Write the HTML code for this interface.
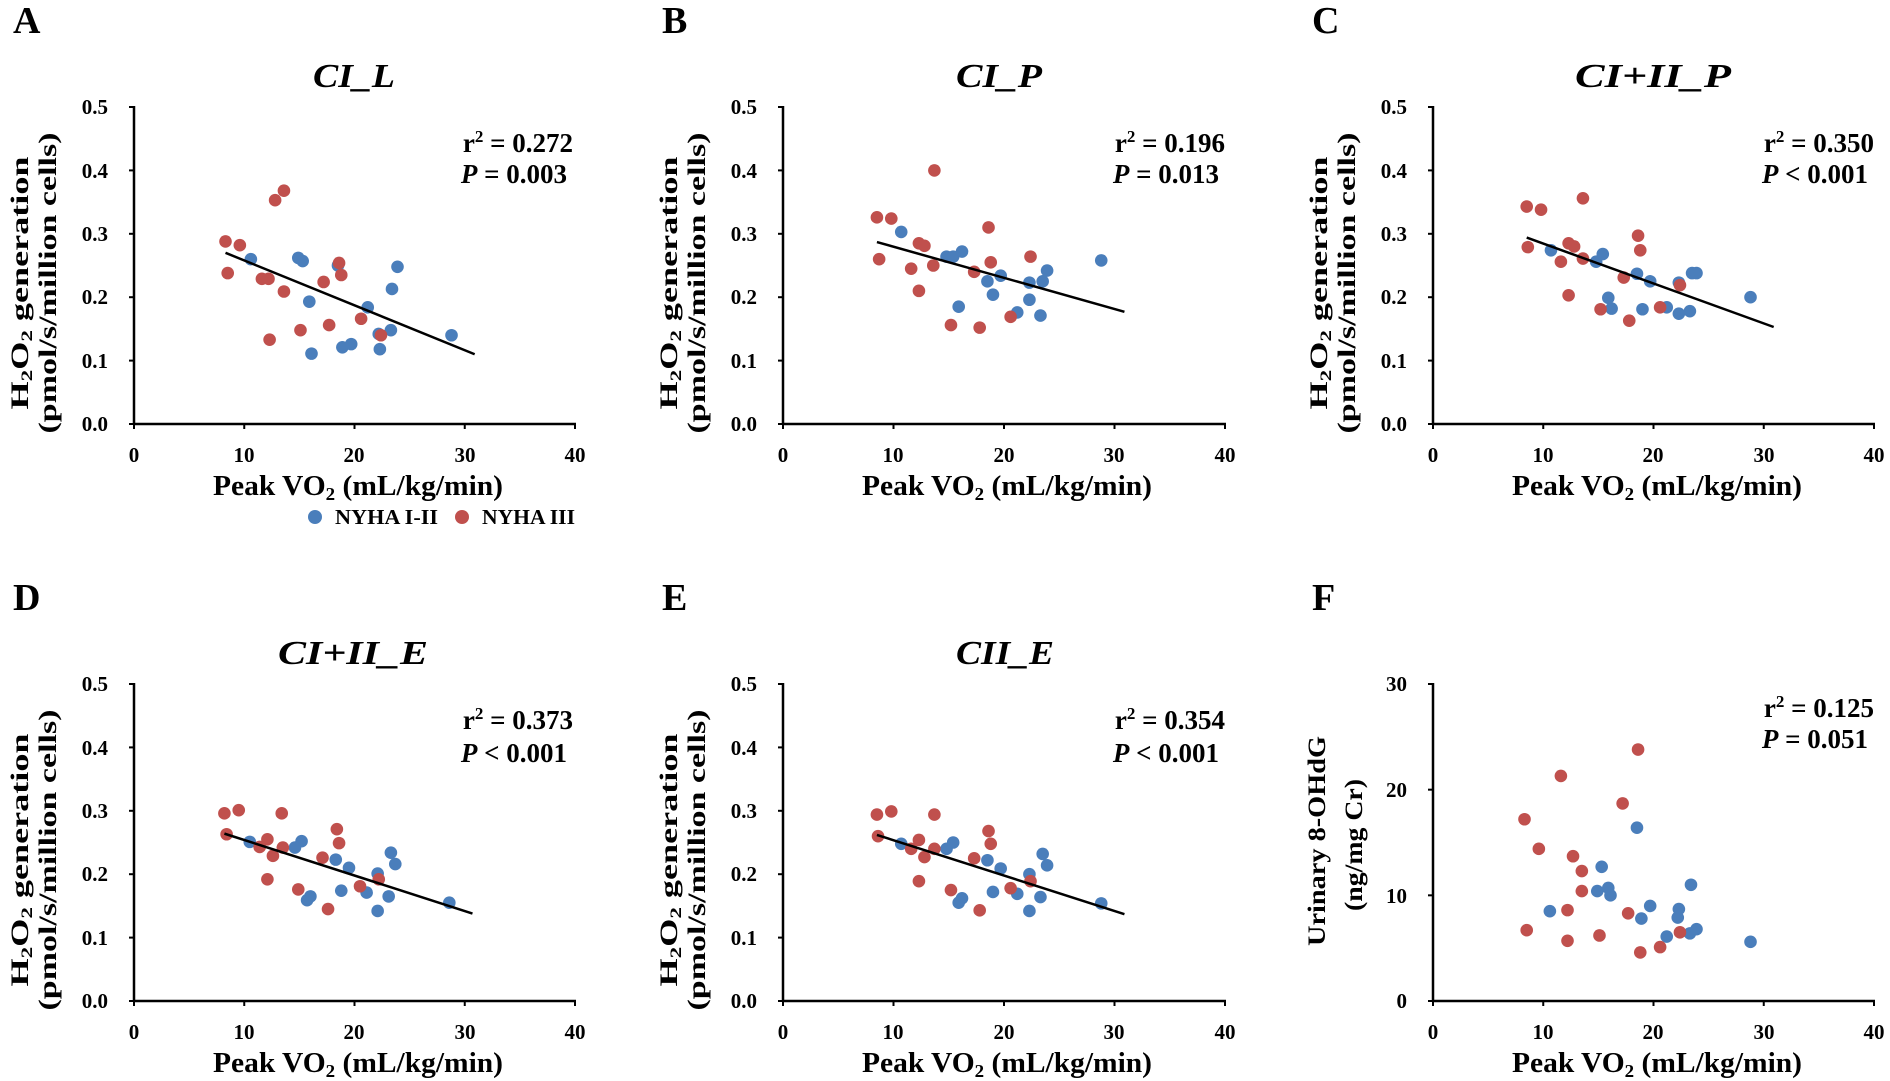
<!DOCTYPE html>
<html><head><meta charset="utf-8"><style>
html,body{margin:0;padding:0;background:#fff;}
svg{display:block;font-family:"Liberation Serif",serif;font-weight:bold;}
</style></head><body>
<svg id="s" width="1890" height="1081" viewBox="0 0 1890 1081" xmlns="http://www.w3.org/2000/svg">
<rect width="1890" height="1081" fill="#fff"/>
<g id="plots"></g>
<!-- Panel letters -->
<g font-size="38">
<text x="13" y="33">A</text><text x="662" y="33">B</text><text x="1312" y="33">C</text>
<text x="13" y="610">D</text><text x="662" y="610">E</text><text x="1312" y="610">F</text>
</g>
<!-- Titles -->
<g font-size="34" font-style="italic">
<text x="313" y="87" textLength="82" lengthAdjust="spacingAndGlyphs">CI_L</text>
<text x="956" y="87" textLength="86" lengthAdjust="spacingAndGlyphs">CI_P</text>
<text x="1575" y="87" textLength="156" lengthAdjust="spacingAndGlyphs">CI+II_P</text>
<text x="278" y="664" textLength="150" lengthAdjust="spacingAndGlyphs">CI+II_E</text>
<text x="956" y="664" textLength="98" lengthAdjust="spacingAndGlyphs">CII_E</text>
</g>
<!-- r2 / P -->
<g font-size="27" text-anchor="end">
<text x="573" y="152">r<tspan font-size="17" dy="-10">2</tspan><tspan dy="10"> = 0.272</tspan></text>
<text x="567" y="183"><tspan font-style="italic">P</tspan> = 0.003</text>
<text x="1225" y="152">r<tspan font-size="17" dy="-10">2</tspan><tspan dy="10"> = 0.196</tspan></text>
<text x="1219" y="183"><tspan font-style="italic">P</tspan> = 0.013</text>
<text x="1874" y="152">r<tspan font-size="17" dy="-10">2</tspan><tspan dy="10"> = 0.350</tspan></text>
<text x="1868" y="183"><tspan font-style="italic">P</tspan> &lt; 0.001</text>
<text x="573" y="729">r<tspan font-size="17" dy="-10">2</tspan><tspan dy="10"> = 0.373</tspan></text>
<text x="567" y="762"><tspan font-style="italic">P</tspan> &lt; 0.001</text>
<text x="1225" y="729">r<tspan font-size="17" dy="-10">2</tspan><tspan dy="10"> = 0.354</tspan></text>
<text x="1219" y="762"><tspan font-style="italic">P</tspan> &lt; 0.001</text>
<text x="1874" y="717">r<tspan font-size="17" dy="-10">2</tspan><tspan dy="10"> = 0.125</tspan></text>
<text x="1868" y="748"><tspan font-style="italic">P</tspan> = 0.051</text>
</g>
<!-- Y tick labels -->
<g font-size="21" text-anchor="end">
<text x="108" y="114">0.5</text><text x="108" y="178">0.4</text><text x="108" y="241">0.3</text><text x="108" y="304">0.2</text><text x="108" y="368">0.1</text><text x="108" y="431">0.0</text>
<text x="757" y="114">0.5</text><text x="757" y="178">0.4</text><text x="757" y="241">0.3</text><text x="757" y="304">0.2</text><text x="757" y="368">0.1</text><text x="757" y="431">0.0</text>
<text x="1407" y="114">0.5</text><text x="1407" y="178">0.4</text><text x="1407" y="241">0.3</text><text x="1407" y="304">0.2</text><text x="1407" y="368">0.1</text><text x="1407" y="431">0.0</text>
<text x="108" y="691">0.5</text><text x="108" y="755">0.4</text><text x="108" y="818">0.3</text><text x="108" y="881">0.2</text><text x="108" y="945">0.1</text><text x="108" y="1008">0.0</text>
<text x="757" y="691">0.5</text><text x="757" y="755">0.4</text><text x="757" y="818">0.3</text><text x="757" y="881">0.2</text><text x="757" y="945">0.1</text><text x="757" y="1008">0.0</text>
<text x="1407" y="691">30</text><text x="1407" y="797">20</text><text x="1407" y="903">10</text><text x="1407" y="1008">0</text>
</g>
<!-- X tick labels -->
<g font-size="21" text-anchor="middle">
<text x="134" y="462">0</text><text x="244" y="462">10</text><text x="354" y="462">20</text><text x="465" y="462">30</text><text x="575" y="462">40</text>
<text x="783" y="462">0</text><text x="893" y="462">10</text><text x="1004" y="462">20</text><text x="1114" y="462">30</text><text x="1225" y="462">40</text>
<text x="1433" y="462">0</text><text x="1543" y="462">10</text><text x="1653" y="462">20</text><text x="1764" y="462">30</text><text x="1874" y="462">40</text>
<text x="134" y="1039">0</text><text x="244" y="1039">10</text><text x="354" y="1039">20</text><text x="465" y="1039">30</text><text x="575" y="1039">40</text>
<text x="783" y="1039">0</text><text x="893" y="1039">10</text><text x="1004" y="1039">20</text><text x="1114" y="1039">30</text><text x="1225" y="1039">40</text>
<text x="1433" y="1039">0</text><text x="1543" y="1039">10</text><text x="1653" y="1039">20</text><text x="1764" y="1039">30</text><text x="1874" y="1039">40</text>
</g>
<!-- X axis titles -->
<g font-size="28">
<text x="213" y="495" textLength="290" lengthAdjust="spacingAndGlyphs">Peak VO<tspan font-size="18" dy="5">2</tspan><tspan dy="-5"> (mL/kg/min)</tspan></text>
<text x="862" y="495" textLength="290" lengthAdjust="spacingAndGlyphs">Peak VO<tspan font-size="18" dy="5">2</tspan><tspan dy="-5"> (mL/kg/min)</tspan></text>
<text x="1512" y="495" textLength="290" lengthAdjust="spacingAndGlyphs">Peak VO<tspan font-size="18" dy="5">2</tspan><tspan dy="-5"> (mL/kg/min)</tspan></text>
<text x="213" y="1072" textLength="290" lengthAdjust="spacingAndGlyphs">Peak VO<tspan font-size="18" dy="5">2</tspan><tspan dy="-5"> (mL/kg/min)</tspan></text>
<text x="862" y="1072" textLength="290" lengthAdjust="spacingAndGlyphs">Peak VO<tspan font-size="18" dy="5">2</tspan><tspan dy="-5"> (mL/kg/min)</tspan></text>
<text x="1512" y="1072" textLength="290" lengthAdjust="spacingAndGlyphs">Peak VO<tspan font-size="18" dy="5">2</tspan><tspan dy="-5"> (mL/kg/min)</tspan></text>
</g>
<!-- Y axis titles -->
<g font-size="25" text-anchor="middle">
<text transform="translate(28,283) rotate(-90)" textLength="253" lengthAdjust="spacingAndGlyphs">H<tspan font-size="16" dy="4">2</tspan><tspan dy="-4">O</tspan><tspan font-size="16" dy="4">2</tspan><tspan dy="-4"> generation</tspan></text>
<text transform="translate(56,283) rotate(-90)" textLength="301" lengthAdjust="spacingAndGlyphs">(pmol/s/million cells)</text>
<text transform="translate(677,283) rotate(-90)" textLength="253" lengthAdjust="spacingAndGlyphs">H<tspan font-size="16" dy="4">2</tspan><tspan dy="-4">O</tspan><tspan font-size="16" dy="4">2</tspan><tspan dy="-4"> generation</tspan></text>
<text transform="translate(705,283) rotate(-90)" textLength="301" lengthAdjust="spacingAndGlyphs">(pmol/s/million cells)</text>
<text transform="translate(1327,283) rotate(-90)" textLength="253" lengthAdjust="spacingAndGlyphs">H<tspan font-size="16" dy="4">2</tspan><tspan dy="-4">O</tspan><tspan font-size="16" dy="4">2</tspan><tspan dy="-4"> generation</tspan></text>
<text transform="translate(1355,283) rotate(-90)" textLength="301" lengthAdjust="spacingAndGlyphs">(pmol/s/million cells)</text>
<text transform="translate(28,860) rotate(-90)" textLength="253" lengthAdjust="spacingAndGlyphs">H<tspan font-size="16" dy="4">2</tspan><tspan dy="-4">O</tspan><tspan font-size="16" dy="4">2</tspan><tspan dy="-4"> generation</tspan></text>
<text transform="translate(56,860) rotate(-90)" textLength="301" lengthAdjust="spacingAndGlyphs">(pmol/s/million cells)</text>
<text transform="translate(677,860) rotate(-90)" textLength="253" lengthAdjust="spacingAndGlyphs">H<tspan font-size="16" dy="4">2</tspan><tspan dy="-4">O</tspan><tspan font-size="16" dy="4">2</tspan><tspan dy="-4"> generation</tspan></text>
<text transform="translate(705,860) rotate(-90)" textLength="301" lengthAdjust="spacingAndGlyphs">(pmol/s/million cells)</text>
<text transform="translate(1325,841) rotate(-90)" textLength="210" lengthAdjust="spacingAndGlyphs">Urinary 8-OHdG</text>
<text transform="translate(1362,845) rotate(-90)" textLength="132" lengthAdjust="spacingAndGlyphs">(ng/mg Cr)</text>
</g>
<!-- Legend -->
<circle cx="315" cy="517" r="7" fill="#4a7ebb"/>
<text x="335" y="524" font-size="21" textLength="103" lengthAdjust="spacingAndGlyphs">NYHA I-II</text>
<circle cx="462" cy="517" r="7" fill="#c0504d"/>
<text x="482" y="524" font-size="21" textLength="93" lengthAdjust="spacingAndGlyphs">NYHA III</text>
</svg>
<script>
var NS="http://www.w3.org/2000/svg",G=document.getElementById("plots");
function el(n,a){var e=document.createElementNS(NS,n);for(var k in a)e.setAttribute(k,a[k]);G.appendChild(e);return e;}
var P=[
{X0:134,X1:575,T:107,B:424,ym:0.5,yt:5,
r:[[8.3,.288],[8.5,.238],[9.6,.282],[11.6,.229],[12.2,.229],[12.3,.133],[12.8,.353],[13.6,.368],[13.6,.209],[15.1,.148],[17.2,.224],[17.7,.156],[18.6,.254],[18.8,.235],[20.6,.166],[22.4,.140]],
b:[[10.6,.260],[14.9,.262],[15.3,.257],[15.9,.193],[16.1,.111],[18.5,.250],[18.9,.121],[19.7,.126],[21.2,.184],[22.2,.142],[22.3,.118],[23.3,.148],[23.4,.213],[23.9,.248],[28.8,.140]],
l:[8.3,.27,30.9,.11]},
{X0:783,X1:1225,T:107,B:424,ym:0.5,yt:5,
r:[[8.5,.326],[9.8,.324],[12.3,.285],[12.8,.281],[8.7,.26],[11.6,.245],[13.6,.25],[12.3,.21],[13.7,.4],[18.6,.31],[18.8,.255],[17.3,.24],[22.4,.264],[20.6,.169],[15.2,.156],[17.8,.152]],
b:[[10.7,.303],[14.8,.264],[15.4,.264],[16.2,.272],[15.9,.185],[18.5,.225],[19.0,.204],[19.7,.234],[21.2,.176],[22.3,.223],[22.3,.196],[23.3,.171],[23.5,.225],[23.9,.242],[28.8,.258]],
l:[8.5,.287,30.9,.177]},
{X0:1433,X1:1874,T:107,B:424,ym:0.5,yt:5,
r:[[8.5,.343],[9.8,.338],[13.6,.356],[8.6,.279],[12.3,.285],[12.8,.28],[11.6,.256],[13.6,.261],[12.3,.203],[18.6,.297],[18.8,.274],[17.3,.231],[22.4,.219],[20.6,.184],[15.2,.181],[17.8,.163]],
b:[[10.7,.274],[14.8,.256],[15.4,.268],[15.9,.199],[16.2,.182],[18.5,.237],[19,.181],[19.7,.225],[21.2,.184],[22.3,.223],[22.3,.174],[23.3,.178],[23.5,.238],[23.9,.238],[28.8,.2]],
l:[8.5,.294,30.9,.153]},
{X0:134,X1:575,T:684,B:1001,ym:0.5,yt:5,
r:[[8.2,.296],[9.5,.301],[8.4,.263],[13.4,.296],[12.1,.255],[11.4,.243],[12.6,.229],[13.5,.242],[12.1,.192],[18.4,.271],[18.6,.249],[17.1,.226],[22.2,.192],[20.5,.181],[14.9,.176],[17.6,.145]],
b:[[10.5,.251],[14.6,.242],[15.2,.252],[16,.165],[15.7,.159],[18.3,.223],[18.8,.174],[19.5,.21],[21.1,.171],[22.1,.201],[22.1,.142],[23.1,.165],[23.3,.234],[23.7,.216],[28.6,.155]],
l:[8.2,.264,30.7,.138]},
{X0:783,X1:1225,T:684,B:1001,ym:0.5,yt:5,
r:[[8.5,.294],[9.8,.299],[8.6,.26],[13.7,.294],[12.3,.254],[11.6,.24],[12.8,.227],[13.7,.24],[12.3,.189],[18.6,.268],[18.8,.248],[17.3,.225],[22.4,.189],[20.6,.178],[15.2,.175],[17.8,.143]],
b:[[10.7,.248],[14.8,.24],[15.4,.25],[16.2,.162],[15.9,.155],[18.5,.222],[19,.172],[19.7,.209],[21.2,.169],[22.3,.2],[22.3,.142],[23.3,.164],[23.5,.232],[23.9,.214],[28.8,.154]],
l:[8.5,.262,30.9,.137]},
{X0:1433,X1:1874,T:684,B:1001,ym:30,yt:3,
r:[[8.3,17.2],[8.5,6.7],[9.6,14.4],[11.6,21.3],[12.2,8.6],[12.2,5.7],[12.7,13.7],[13.5,12.3],[13.5,10.4],[15.1,6.2],[17.2,18.7],[17.7,8.3],[18.6,23.8],[18.8,4.6],[20.6,5.1],[22.4,6.5]],
b:[[10.6,8.5],[14.9,10.4],[15.3,12.7],[15.9,10.7],[16.1,10.0],[18.5,16.4],[18.9,7.8],[19.7,9.0],[21.2,6.1],[22.2,7.9],[22.3,8.7],[23.3,6.4],[23.4,11.0],[23.9,6.8],[28.8,5.6]],
l:null}
];
P.forEach(function(p){
 var sx=function(v){return p.X0+(p.X1-p.X0)*v/40;},sy=function(v){return p.B-(p.B-p.T)*v/p.ym;};
 el("line",{x1:p.X0,y1:p.T-1,x2:p.X0,y2:p.B+1,stroke:"#000","stroke-width":2.5});
 el("line",{x1:p.X0-1,y1:p.B,x2:p.X1+1,y2:p.B,stroke:"#000","stroke-width":2.5});
 for(var i=0;i<=4;i++){var x=sx(i*10);el("line",{x1:x,y1:p.B,x2:x,y2:p.B+5,stroke:"#000","stroke-width":2});}
 for(var j=0;j<=p.yt;j++){var y=p.B-(p.B-p.T)*j/p.yt;el("line",{x1:p.X0-5,y1:y,x2:p.X0,y2:y,stroke:"#000","stroke-width":2});}
 p.b.forEach(function(d){el("circle",{cx:sx(d[0]),cy:sy(d[1]),r:6.3,fill:"#4a7ebb"});});
 p.r.forEach(function(d){el("circle",{cx:sx(d[0]),cy:sy(d[1]),r:6.3,fill:"#c0504d"});});
 if(p.l)el("line",{x1:sx(p.l[0]),y1:sy(p.l[1]),x2:sx(p.l[2]),y2:sy(p.l[3]),stroke:"#000","stroke-width":2.5});
});
</script>
</body></html>
